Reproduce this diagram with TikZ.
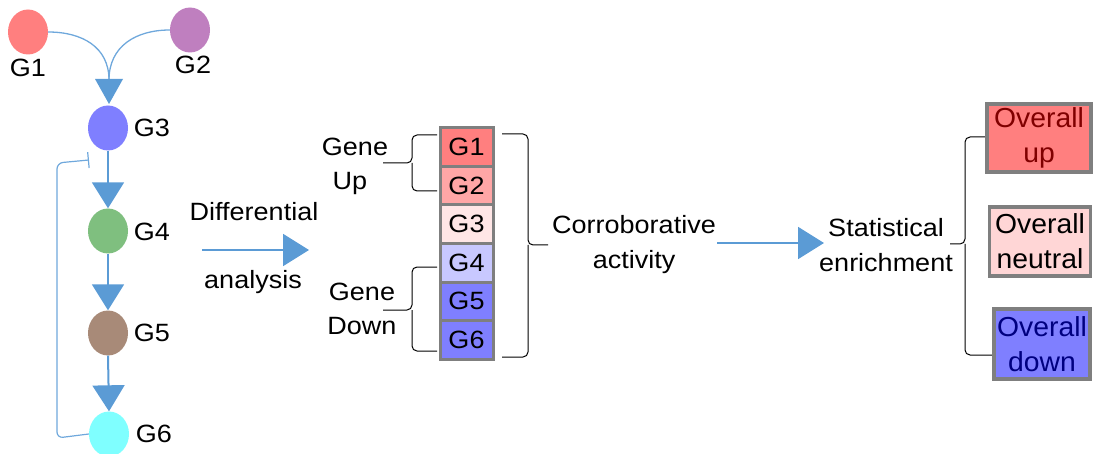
\documentclass[tikz,border=0pt]{standalone}
\usepackage{fontspec}
\setmainfont{Liberation Sans}[FakeStretch=1.08]
\newfontfamily\summaryfont{Liberation Sans}[FakeStretch=1.03]
\usetikzlibrary{shapes.geometric,arrows.meta}
\definecolor{linkblue}{HTML}{5B9BD5}
\definecolor{thinblue}{HTML}{6FA8DC}
\definecolor{boxgray}{HTML}{7F7F7F}
\definecolor{cG1}{HTML}{FF7F7F}
\definecolor{cG2}{HTML}{BF7FBF}
\definecolor{cG3}{HTML}{7F7FFF}
\definecolor{cG4}{HTML}{7FBF7F}
\definecolor{cG5}{HTML}{A88A78}
\definecolor{cG6}{HTML}{7FFFFF}
\definecolor{bG2}{HTML}{FFA6A6}
\definecolor{bG3}{HTML}{FFE6E6}
\definecolor{bG4}{HTML}{C8C8FF}
\definecolor{neutralfill}{HTML}{FFD6D6}
\definecolor{darkred}{HTML}{800000}
\definecolor{darkblue}{HTML}{000080}
\tikzset{
  every node/.style={font=\fontsize{25}{35}\selectfont, inner sep=0pt},
  gene/.style={ellipse, minimum width=40pt, minimum height=45pt},
  bigtip/.style={-{Triangle[length=26pt,width=32pt]}},
  link/.style={draw=linkblue, line width=2pt, bigtip, color=linkblue},
  curvelink/.style={draw=thinblue, line width=1.3pt},
  inhib/.style={draw=thinblue, line width=1.2pt, -{Bar[width=16pt,line width=1.2pt]}},
  genebox/.style={draw=boxgray, line width=3pt, minimum width=53pt, minimum height=38.5pt},
  summary/.style={draw=boxgray, line width=3.5pt, align=center,
    font=\summaryfont\fontsize{27.5}{35}\selectfont},
  brace/.style={draw=black, line width=1pt, rounded corners=5pt}
}
\begin{document}
\begin{tikzpicture}[x=1pt,y=-1pt]
\useasboundingbox (0,0) rectangle (1094,454);

% gene network
\node[gene, fill=cG1] (G1) at (28,32) {};
\node[gene, fill=cG2] (G2) at (190,30) {};
\node[gene, fill=cG3] (G3) at (108,128) {};
\node[gene, fill=cG4] (G4) at (108,231) {};
\node[gene, fill=cG5] (G5) at (108,333) {};
\node[gene, fill=cG6] (G6) at (109,434) {};
\node (lG1) at (28,68) {G1};
\node (lG2) at (193,65) {G2};
\node (lG3) at (152,128) {G3};
\node (lG4) at (152,232) {G4};
\node (lG5) at (152,333) {G5};
\node (lG6) at (154,434) {G6};

\draw[curvelink] (G1.east) to[out=0,in=90,looseness=1.1] (109,80);
\draw[curvelink] (G2.west) to[out=180,in=90,looseness=1.1] (109,80);
\fill[linkblue] (95,79) -- (123,79) -- (109,104) -- cycle;
\draw[link] (G3.south) -- (G4.north);
\draw[link] (G4.south) -- (G5.north);
\draw[link] (G5.south) -- (G6.north);
\coordinate (stop) at (89,160);
\draw[inhib, rounded corners=6pt] (G6.west) -- (57,438) -- (57,163) -- (stop);

% differential analysis step
\node (diff) at (254,212) {Differential};
\node (anal) at (253,282) {analysis};
\coordinate (d1) at (202,250);
\coordinate (d2) at (309,250);
\draw[link] (d1) -- (d2);

% ranked gene column
\node[genebox, fill=cG1] (b1) at (466.5,147.25) {G1};
\node[genebox, fill=bG2] (b2) at (466.5,185.75) {G2};
\node[genebox, fill=bG3] (b3) at (466.5,224.25) {G3};
\node[genebox, fill=bG4] (b4) at (466.5,262.75) {G4};
\node[genebox, fill=cG3] (b5) at (466.5,301.25) {G5};
\node[genebox, fill=cG3] (b6) at (466.5,339.75) {G6};

% gene up / down brackets
\draw[brace] (437,135) -- (412,135) -- (412,163) -- (383,163);
\draw[brace] (412,163) -- (412,191) -- (437,191);
\node (gu1) at (355,147) {Gene};
\node (gu2) at (350,183) {Up};
\draw[brace] (437,267) -- (412,267) -- (412,310) -- (383,310);
\draw[brace] (412,310) -- (412,351) -- (437,351);
\node (gd1) at (362,292) {Gene};
\node (gd2) at (362,326) {Down};

% closing brace over the column
\draw[brace] (502,134) -- (528,134) -- (528,245) -- (548,245);
\draw[brace] (528,245) -- (528,357) -- (502,357);

% corroborative activity step
\node[align=center] (corr) at (634,245) {Corroborative\\activity};
\coordinate (c1) at (717,243);
\coordinate (c2) at (824,243);
\draw[link] (c1) -- (c2);
\node[align=center] (stat) at (886,245) {Statistical\\enrichment};

% opening brace to the summaries
\draw[brace] (990,137) -- (965,137) -- (965,244) -- (950,244);
\draw[brace] (965,244) -- (965,355) -- (994,355);

% summary boxes
\node[summary, fill=cG1, text=darkred, minimum width=104pt, minimum height=68pt] (up) at (1039,138) {Overall\\up};
\node[summary, fill=neutralfill, minimum width=101pt, minimum height=69pt] (neu) at (1040,241.5) {Overall\\neutral};
\node[summary, fill=cG3, text=darkblue, minimum width=96pt, minimum height=70pt] (down) at (1042,344) {Overall\\down};
\end{tikzpicture}
\end{document}
